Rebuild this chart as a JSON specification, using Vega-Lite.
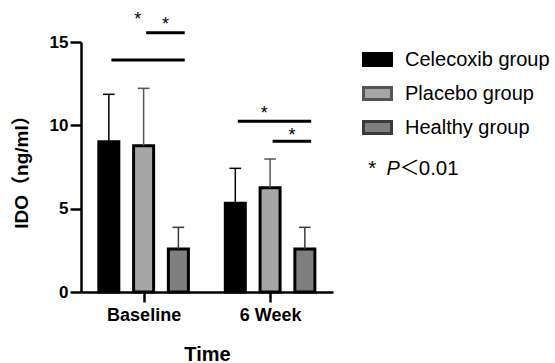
{
  "$schema": "https://vega.github.io/schema/vega-lite/v6.json",
  "width": 252,
  "height": 250,
  "autosize": {"type": "none"},
  "padding": {"left": 81, "top": 42, "right": 222, "bottom": 71},
  "background": "white",
  "config": {"view": {"stroke": null}, "font": "Liberation Sans"},
  "datasets": {
    "bars": [
      {"time": "Baseline", "group": "Celecoxib group", "mean": 9.02, "upper": 11.86},
      {"time": "Baseline", "group": "Placebo group", "mean": 8.78, "upper": 12.22},
      {"time": "Baseline", "group": "Healthy group", "mean": 2.58, "upper": 3.88},
      {"time": "6 Week", "group": "Celecoxib group", "mean": 5.32, "upper": 7.42},
      {"time": "6 Week", "group": "Placebo group", "mean": 6.26, "upper": 7.98},
      {"time": "6 Week", "group": "Healthy group", "mean": 2.58, "upper": 3.88}
    ],
    "sig": [
      {"time": "Baseline", "from": "Celecoxib group", "to": "Healthy group", "level": 13.92, "star_level": 16.02},
      {"time": "Baseline", "from": "Placebo group", "to": "Healthy group", "level": 15.56, "star_level": 15.72},
      {"time": "6 Week", "from": "Celecoxib group", "to": "Healthy group", "level": 10.24, "star_level": 10.38},
      {"time": "6 Week", "from": "Placebo group", "to": "Healthy group", "level": 9.04, "star_level": 9.06}
    ],
    "note": [
      {"piece": "*", "kind": "plain"},
      {"piece": "P", "kind": "italic"},
      {"piece": "＜", "kind": "cjk"},
      {"piece": "0.01", "kind": "plain"}
    ]
  },
  "encoding": {
    "x": {
      "field": "xv", "type": "quantitative",
      "scale": {"domain": [0.5444, 2.458], "nice": false, "zero": false},
      "axis": {
        "title": "Time", "values": [1, 2],
        "labelExpr": "datum.value == 1 ? 'Baseline' : '6 Week'",
        "grid": false, "domainColor": "black", "domainWidth": 2.5,
        "tickColor": "black", "tickWidth": 2.5, "tickSize": 10,
        "labelFont": "Liberation Sans", "labelFontWeight": "bold", "labelFontSize": 18, "labelColor": "black",
        "labelPadding": 4, "labelFlush": false,
        "titleFont": "Liberation Sans", "titleFontWeight": "bold", "titleFontSize": 20, "titleColor": "black",
        "titlePadding": 20
      }
    },
    "y": {
      "field": "yv", "type": "quantitative",
      "scale": {"domain": [0, 15], "nice": false},
      "axis": {
        "title": "IDO（ng/ml）", "values": [0, 5, 10, 15],
        "grid": false, "domainColor": "black", "domainWidth": 2.5,
        "tickColor": "black", "tickWidth": 2.5, "tickSize": 11,
        "labelFont": "Liberation Sans", "labelFontWeight": "bold", "labelFontSize": 17, "labelColor": "black",
        "labelPadding": 2, "labelFlush": false,
        "titleFont": "Liberation Sans, Noto Sans CJK SC", "titleFontWeight": "bold", "titleFontSize": 19, "titleColor": "black",
        "titlePadding": 18
      }
    }
  },
  "layer": [
    {
      "data": {"name": "bars"},
      "transform": [
        {"calculate": "(datum.time=='Baseline'?1:2) + (datum.group=='Celecoxib group'?-0.275:(datum.group=='Healthy group'?0.275:0))", "as": "xv"},
        {"calculate": "datum.mean", "as": "yv"}
      ],
      "mark": {"type": "bar", "size": 20, "stroke": "black", "strokeWidth": 3},
      "encoding": {
        "fill": {
          "field": "group", "type": "nominal",
          "scale": {"domain": ["Celecoxib group", "Placebo group", "Healthy group"], "range": ["#000000", "#a6a6a6", "#7f7f7f"]},
          "legend": {
            "title": null, "orient": "none", "legendX": 281, "legendY": 2,
            "symbolType": "M-1,-0.43H1V0.43H-1Z", "symbolSize": 784,
            "symbolStrokeColor": "black", "symbolStrokeWidth": 3,
            "labelFont": "Liberation Sans", "labelFontSize": 20, "labelColor": "black",
            "labelOffset": 12, "rowPadding": 6
          }
        }
      }
    },
    {
      "data": {"name": "bars"},
      "transform": [
        {"calculate": "(datum.time=='Baseline'?1:2) + (datum.group=='Celecoxib group'?-0.275:(datum.group=='Healthy group'?0.275:0))", "as": "xv"},
        {"calculate": "datum.mean", "as": "yv"}
      ],
      "mark": {"type": "rule", "strokeWidth": 1.5},
      "encoding": {
        "y2": {"field": "upper"},
        "stroke": {
          "field": "group", "type": "nominal",
          "scale": {"domain": ["Celecoxib group", "Placebo group", "Healthy group"], "range": ["#000000", "#555555", "#3a3a3a"]},
          "legend": null
        }
      }
    },
    {
      "data": {"name": "bars"},
      "transform": [
        {"calculate": "(datum.time=='Baseline'?1:2) + (datum.group=='Celecoxib group'?-0.275:(datum.group=='Healthy group'?0.275:0))", "as": "xpos"},
        {"calculate": "datum.xpos - 0.046", "as": "xv"},
        {"calculate": "datum.xpos + 0.046", "as": "cap_end"},
        {"calculate": "datum.upper", "as": "yv"}
      ],
      "mark": {"type": "rule", "strokeWidth": 1.5},
      "encoding": {
        "x2": {"field": "cap_end"},
        "stroke": {
          "field": "group", "type": "nominal",
          "scale": {"domain": ["Celecoxib group", "Placebo group", "Healthy group"], "range": ["#000000", "#555555", "#3a3a3a"]},
          "legend": null
        }
      }
    },
    {
      "data": {"name": "sig"},
      "transform": [
        {"calculate": "(datum.time=='Baseline'?1:2) + (datum.from=='Celecoxib group'?-0.275:(datum.from=='Healthy group'?0.275:0)) + 0.02", "as": "xv"},
        {"calculate": "(datum.time=='Baseline'?1:2) + (datum.to=='Celecoxib group'?-0.275:(datum.to=='Healthy group'?0.275:0)) + 0.05", "as": "x_end"},
        {"calculate": "datum.level", "as": "yv"}
      ],
      "mark": {"type": "rule", "strokeWidth": 3, "color": "black"},
      "encoding": {
        "x2": {"field": "x_end"}
      }
    },
    {
      "data": {"name": "sig"},
      "transform": [
        {"calculate": "(datum.time=='Baseline'?1:2) + (datum.from=='Celecoxib group'?-0.275:(datum.from=='Healthy group'?0.275:0)) + 0.02", "as": "x_start"},
        {"calculate": "(datum.time=='Baseline'?1:2) + (datum.to=='Celecoxib group'?-0.275:(datum.to=='Healthy group'?0.275:0)) + 0.05", "as": "x_end"},
        {"calculate": "datum.x_start + (datum.from=='Celecoxib group' ? 0.36 : 0.5) * (datum.x_end - datum.x_start)", "as": "xv"},
        {"calculate": "datum.star_level", "as": "yv"}
      ],
      "mark": {"type": "text", "text": "*", "fontSize": 18, "font": "Liberation Sans", "align": "center", "baseline": "alphabetic", "color": "black"},
      "encoding": {}
    },
    {
      "data": {"name": "note"},
      "transform": [
        {"filter": "datum.kind == 'plain'"},
        {"calculate": "datum.piece == '*' ? 2.777 : 3.1756", "as": "xv"},
        {"calculate": "7.02", "as": "yv"}
      ],
      "mark": {"type": "text", "fontSize": 20.5, "font": "Liberation Sans", "align": "left", "baseline": "alphabetic", "color": "black"},
      "encoding": {"text": {"field": "piece"}}
    },
    {
      "data": {"name": "note"},
      "transform": [
        {"filter": "datum.kind == 'italic'"},
        {"calculate": "2.9212", "as": "xv"},
        {"calculate": "7.02", "as": "yv"}
      ],
      "mark": {"type": "text", "fontSize": 20, "font": "Liberation Sans", "fontStyle": "italic", "align": "left", "baseline": "alphabetic", "color": "black"},
      "encoding": {"text": {"field": "piece"}}
    },
    {
      "data": {"name": "note"},
      "transform": [
        {"filter": "datum.kind == 'cjk'"},
        {"calculate": "3.0237", "as": "xv"},
        {"calculate": "7.02", "as": "yv"}
      ],
      "mark": {"type": "text", "fontSize": 20, "font": "Noto Sans CJK SC", "align": "left", "baseline": "alphabetic", "color": "black"},
      "encoding": {"text": {"field": "piece"}}
    }
  ]
}
